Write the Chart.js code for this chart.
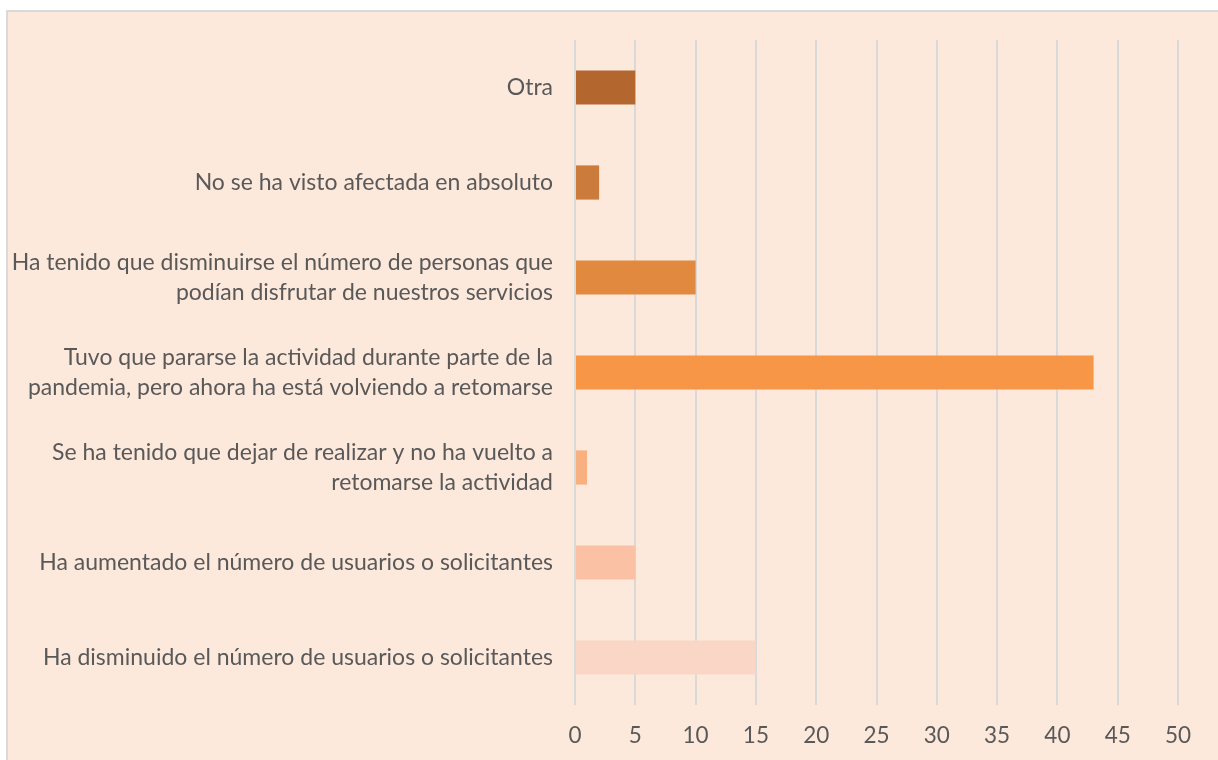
<!DOCTYPE html>
<html>
<head>
<meta charset="utf-8">
<script src="https://cdn.jsdelivr.net/npm/chart.js@4"></script>
<style>
  html, body { margin: 0; padding: 0; background: #ffffff; }
  #wrap { width: 1218px; height: 760px; }
</style>
</head>
<body>
<div id="wrap"><canvas id="chart" width="1218" height="760"></canvas></div>
<script>
// categories, top to bottom
const categories = [
    ["Otra"],
    ["No se ha visto afectada en absoluto"],
    ["Ha tenido que disminuirse el número de personas que", "podían disfrutar de nuestros servicios"],
    ["Tuvo que pararse la actividad durante parte de la", "pandemia, pero ahora ha está volviendo a retomarse"],
    ["Se ha tenido que dejar de realizar y no ha vuelto a", "retomarse la actividad"],
    ["Ha aumentado el número de usuarios o solicitantes"],
    ["Ha disminuido el número de usuarios o solicitantes"]
];
const counts = [5, 2, 10, 43, 1, 5, 15];
const barColors = ["#B3672F", "#CB7B3B", "#E0893F", "#F79646", "#F9B081", "#FAC1A5", "#F9D6C6"];
const xTicks = [0, 5, 10, 15, 20, 25, 30, 35, 40, 45, 50];

const textColor = "#595959";
const fontFamily = "Lato, 'Liberation Sans', sans-serif";

// peach panel with grey frame (frame runs off the right and bottom edges)
const panelBg = {
    id: 'panelBg',
    beforeDraw(chart) {
        const ctx = chart.ctx;
        ctx.save();
        ctx.fillStyle = "#D9D9D9";
        ctx.fillRect(6, 10, chart.width - 6, chart.height - 10);
        ctx.fillStyle = "#FDE9DC";
        ctx.fillRect(8, 12, chart.width - 8, chart.height - 12);
        ctx.restore();
    }
};

new Chart(document.getElementById('chart').getContext('2d'), {
    type: 'bar',
    data: {
        labels: categories,
        datasets: [{
            data: counts,
            backgroundColor: barColors,
            borderWidth: 0,
            categoryPercentage: 1,
            barPercentage: 0.36
        }]
    },
    options: {
        indexAxis: 'y',
        responsive: false,
        animation: false,
        layout: {
            padding: { top: 40, right: 40, bottom: 12, left: 0 }
        },
        plugins: {
            legend: { display: false },
            tooltip: { enabled: false }
        },
        scales: {
            x: {
                min: 0,
                max: 50,
                afterBuildTicks: (scale) => {
                    scale.ticks = xTicks.map(v => ({ value: v }));
                },
                afterFit: (scale) => { scale.height = 43; },
                grid: {
                    color: "#D9D9D9",
                    lineWidth: 2,
                    drawTicks: false
                },
                border: { display: false },
                ticks: {
                    color: textColor,
                    padding: 17,
                    font: { family: fontFamily, size: 22.5 }
                }
            },
            y: {
                afterFit: (scale) => { scale.width = 575; },
                grid: { display: false },
                border: { display: false },
                ticks: {
                    color: textColor,
                    padding: 14,
                    font: { family: fontFamily, size: 23, lineHeight: 1.27 }
                }
            }
        }
    },
    plugins: [panelBg]
});
</script>
</body>
</html>
